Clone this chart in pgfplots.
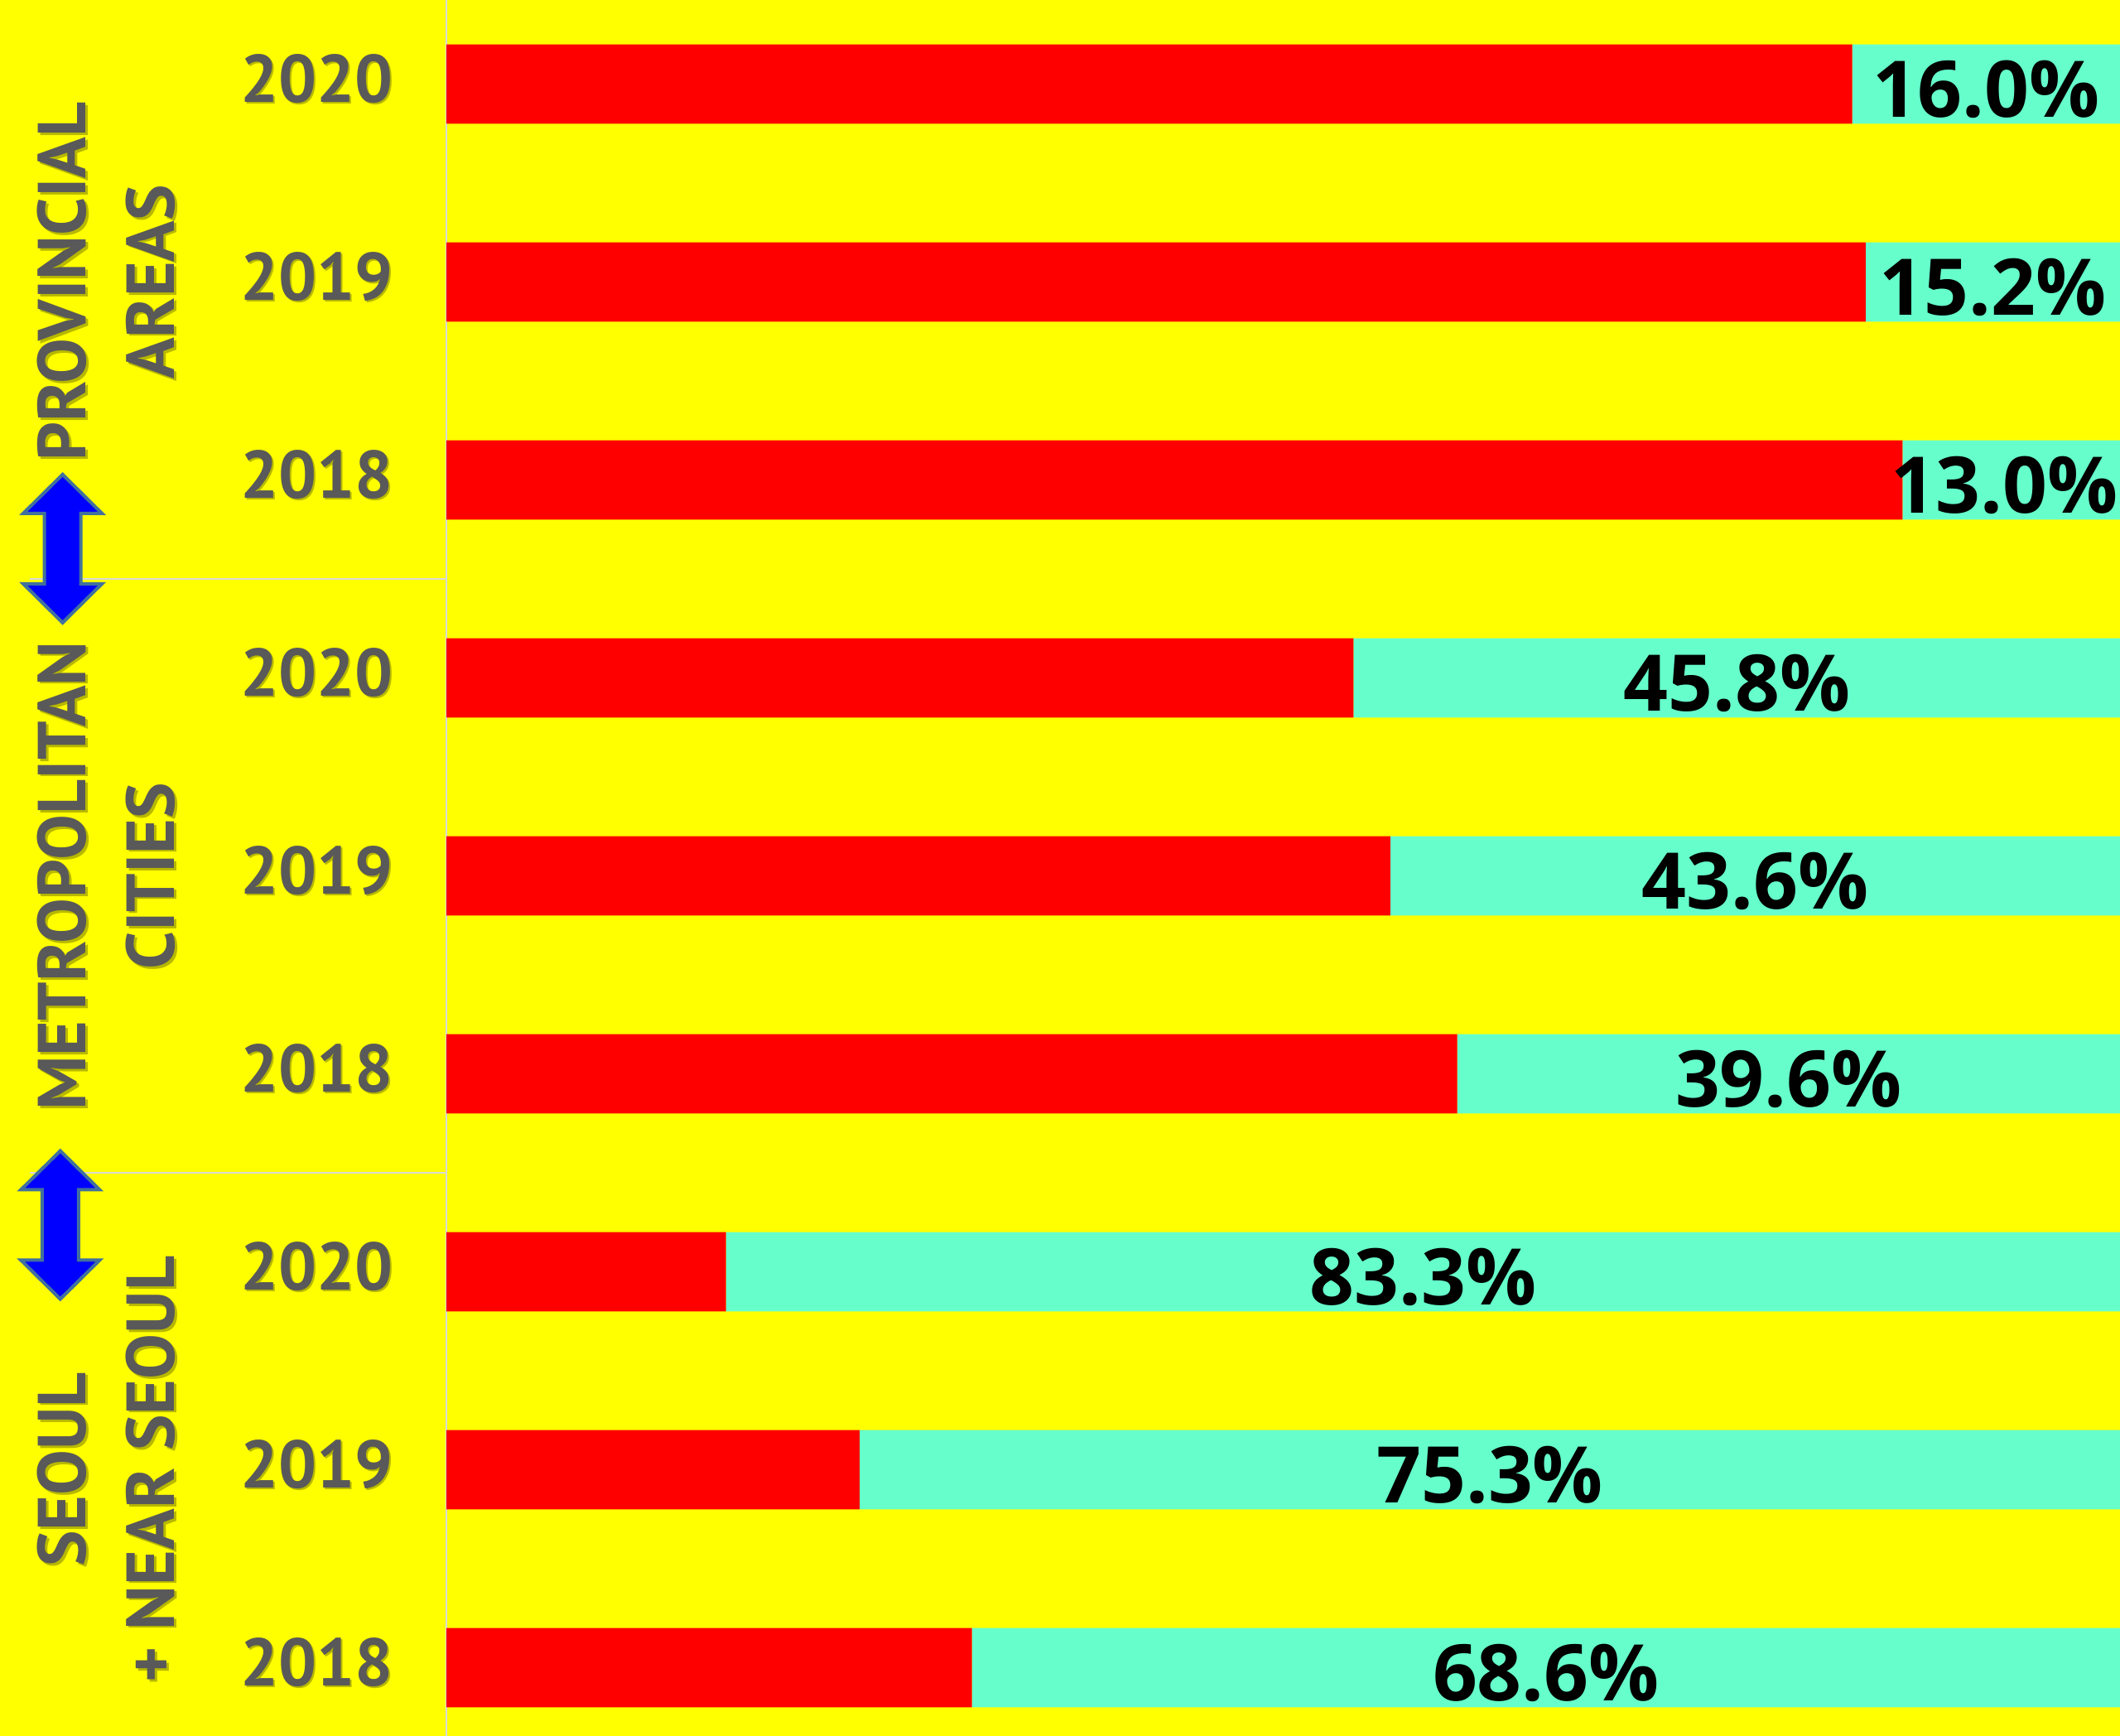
\documentclass[border=0pt]{standalone}
\usepackage{fontspec}
\usepackage{pgfplots}
\pgfplotsset{compat=1.18}
\newfontfamily\pctfont{Open Sans}
\newfontfamily\labfont{PT Sans}
\definecolor{barred}{HTML}{FF0000}
\definecolor{aqua}{HTML}{66FFCC}
\definecolor{bgyellow}{HTML}{FFFF00}
\definecolor{labgray}{HTML}{595959}
\definecolor{sepgray}{HTML}{D9D9D9}
\definecolor{arrowblue}{HTML}{0000FF}
\definecolor{arrowedge}{HTML}{41719C}
\newcommand{\yearfont}{\labfont\bfseries\fontsize{20.3pt}{24pt}\selectfont}
\newcommand{\groupfont}{\labfont\bfseries\fontsize{20.5pt}{26.8pt}\selectfont}
\newcommand{\pctfontsize}{\pctfont\bfseries\fontsize{23.6pt}{28pt}\selectfont}
\newcommand{\dblarrow}[2]{%
  \begin{scope}[shift={(#1,#2)}]
  \filldraw[fill=arrowblue, draw=arrowedge, line width=1pt, line join=miter]
  (0,22.375pt) -- (11.875pt,10.625pt) -- (5.5pt,10.625pt) -- (5.5pt,-10.625pt) --
  (11.875pt,-10.625pt) -- (0,-22.375pt) -- (-11.875pt,-10.625pt) -- (-5.5pt,-10.625pt) --
  (-5.5pt,10.625pt) -- (-11.875pt,10.625pt) -- cycle;
  \end{scope}}
\newcommand{\grouplabel}[2]{%
  \node[rotate=90, align=center, text=black, opacity=0.28, font=\groupfont, inner sep=0pt] at (32.8pt,#1-0.7pt) {#2};
  \node[rotate=90, align=center, text=labgray, font=\groupfont, inner sep=0pt] at (32.1pt,#1) {#2};}
\pgfplotsset{base/.style={at={(134.75pt,0pt)}, anchor=south west, scale only axis,
  width=505.25pt, height=524pt, xmin=0, xmax=100, ymin=-0.345, ymax=8.425,
  axis line style={draw=none}, xtick=\empty, ytick={0,...,8}, major tick length=0pt,
  tick style={draw=none}, clip=false}}
\begin{document}
\begin{tikzpicture}
\path[use as bounding box] (0,0) rectangle (640pt,524pt);
\clip (0,0) rectangle (640pt,524pt);
\fill[bgyellow] (0,0) rectangle (640pt,524pt);
\draw[sepgray, line width=0.5pt] (9pt,170pt) -- (134.75pt,170pt);
\draw[sepgray, line width=0.5pt] (9pt,349.25pt) -- (134.75pt,349.25pt);
\dblarrow{18.9pt}{358.4pt}
\dblarrow{18.2pt}{154.25pt}
\grouplabel{438.9pt}{PROVINCIAL\\AREAS}
\grouplabel{259.6pt}{METROPOLITAN\\CITIES}
\grouplabel{80.4pt}{SEOUL\\+ NEAR SEOUL}
% shadow of year labels
\begin{axis}[base, yticklabels={2018,2019,2020,2018,2019,2020,2018,2019,2020},
  yticklabel style={font=\yearfont, text=black, opacity=0.28, anchor=east, inner sep=0pt, xshift=-15.3pt, yshift=1.0pt}]
\addplot[draw=none, mark=none] coordinates {(0,0) (1,1)};
\end{axis}
% bars
\begin{axis}[base, xbar stacked, bar width=0.4,
  yticklabels={2018,2019,2020,2018,2019,2020,2018,2019,2020},
  yticklabel style={font=\yearfont, text=labgray, anchor=east, inner sep=0pt, xshift=-16pt, yshift=1.7pt}]
\addplot[fill=barred, draw=none] coordinates {(31.4,0) (24.7,1) (16.7,2) (60.4,3) (56.4,4) (54.2,5) (87.0,6) (84.8,7) (84.0,8)};
\addplot[fill=aqua, draw=none] coordinates {(68.6,0) (75.3,1) (83.3,2) (39.6,3) (43.6,4) (45.8,5) (13.0,6) (15.2,7) (16.0,8)};
\draw[sepgray, line width=0.5pt] (rel axis cs:0,0) -- (rel axis cs:0,1);
\end{axis}
% percentage labels, centred in the aqua segments
\begin{axis}[base, yticklabels=\empty]
\addplot[only marks, mark=*, mark size=0pt, draw=none, fill=none,
  nodes near coords, point meta=explicit symbolic,
  every node near coord/.append style={font=\pctfontsize, text=black, anchor=center, inner sep=0pt, yshift=-1.5pt}]
  coordinates {(65.7,0) [68.6\%] (62.35,1) [75.3\%] (58.35,2) [83.3\%]
               (80.2,3) [39.6\%] (78.2,4) [43.6\%] (77.1,5) [45.8\%]
               (93.1,6) [13.0\%] (92.4,7) [15.2\%] (92.0,8) [16.0\%]};
\end{axis}
\end{tikzpicture}
\end{document}
